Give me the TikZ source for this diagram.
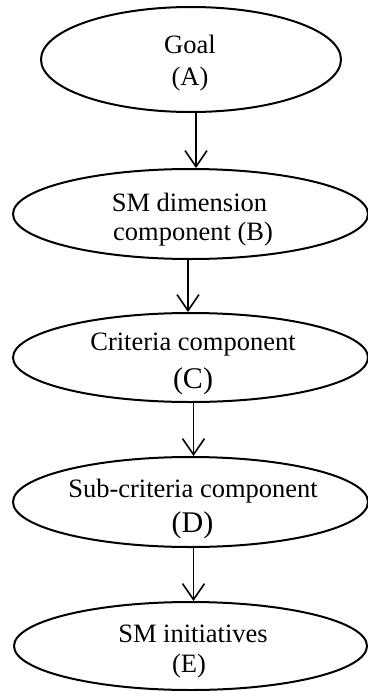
\documentclass[tikz,border=0pt]{standalone}
\usepackage{fontspec}
\setmainfont{Liberation Serif}
\usetikzlibrary{shapes.geometric,arrows.meta}
\begin{document}
\begin{tikzpicture}[x=1pt,y=1pt,
  ell/.style={draw,ellipse,line width=2pt,inner sep=0pt},
  lbl/.style={inner sep=0pt,anchor=base,font=\fontsize{26.5}{30}\selectfont},
  big/.style={inner sep=0pt,anchor=base,font=\fontsize{30}{34}\selectfont},
  arr/.style={line width=1.6pt,-{Straight Barb[length=16pt,width=22pt,line width=1.6pt]}}]
\useasboundingbox (0,0) rectangle (367,-691);
% ellipses
\node[ell,minimum width=300pt,minimum height=105pt] (A) at (191,-59.5) {};
\node[ell,minimum width=355pt,minimum height=90pt] (B) at (190.5,-214) {};
\node[ell,minimum width=355pt,minimum height=89pt] (C) at (190.5,-357.5) {};
\node[ell,minimum width=355pt,minimum height=90pt] (D) at (190.5,-502) {};
\node[ell,minimum width=353pt,minimum height=88pt] (E) at (190.5,-646) {};
% labels
\node[lbl] (A1) at (190,-53) {Goal};
\node[lbl] (A2) at (190,-85) {(A)};
\node[lbl] (B1) at (189.5,-211) {SM dimension};
\node[lbl] (B2) at (193,-240) {component (B)};
\node[lbl] (C1) at (193,-350) {Criteria component};
\node[big] (C2) at (193,-388) {(C)};
\node[lbl] (D1) at (193,-497) {Sub-criteria component};
\node[big] (D2) at (192.5,-532) {(D)};
\node[lbl] (E1) at (193,-642) {SM initiatives};
\node[lbl] (E2) at (189,-672) {(E)};
% connectors
\draw[arr] ([xshift=5pt]A.south) -- ([xshift=5.5pt]B.north);
\draw[arr] ([xshift=-2.5pt]B.south) -- ([xshift=-2.5pt]C.north);
\draw[arr] ([xshift=3pt]C.south) -- ([xshift=3pt]D.north);
\draw[arr] ([xshift=3pt]D.south) -- ([xshift=3pt]E.north);
\end{tikzpicture}
\end{document}
